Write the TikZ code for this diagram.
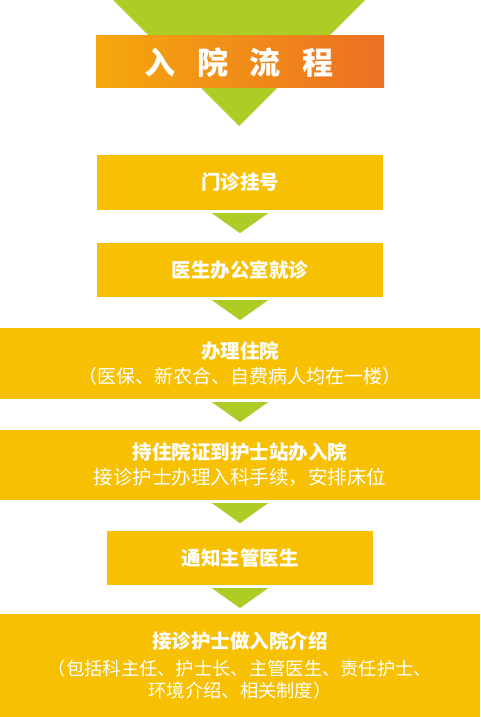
\documentclass[tikz,border=0pt]{standalone}
\usepackage{fontspec}
\newfontfamily\cjk{Noto Sans CJK SC}
\usetikzlibrary{calc}
\definecolor{boxy}{HTML}{F8C002}
\definecolor{arrg}{HTML}{ACCD26}
\definecolor{banl}{HTML}{F5A80C}
\definecolor{banr}{HTML}{EC7024}
\tikzset{
  stepbox/.style={fill=boxy, draw=none, inner sep=0pt, align=center, text=white,
    font=\cjk\fontsize{19.5}{25}\selectfont},
  garrow/.style={fill=arrg, draw=none},
}
\newcommand{\downtri}[1]{\fill[garrow] ($(#1.south)+(-28,3)$) -- ($(#1.south)+(28,3)$) -- ($(#1.south)+(0,23)$) -- cycle;}
\begin{document}
\begin{tikzpicture}[x=1pt,y=-1pt]
\useasboundingbox (0,0) rectangle (480,717);
% big triangle and banner
\fill[garrow] (113,0) -- (365,0) -- (239,126) -- cycle;
\shade[left color=banl, right color=banr] (96,36) rectangle (384,87);
\node[text=white, font=\cjk\bfseries\fontsize{31}{31}\selectfont] (title) at (239,63)
  {入\hspace{21.5pt}院\hspace{21.5pt}流\hspace{21.5pt}程};
% boxes
\node[stepbox, minimum width=286, minimum height=55] (b1) at (240,182.5) {\bfseries 门诊挂号};
\node[stepbox, minimum width=286, minimum height=54] (b2) at (240,270) {\bfseries 医生办公室就诊};
\node[stepbox, minimum width=480, minimum height=71, font=\cjk\fontsize{19}{25}\selectfont] (b3) at (240,363.5)
  {{\fontsize{19.5}{25}\selectfont\bfseries 办理住院}\\（医保、新农合、自费病人均在一楼）};
\node[stepbox, minimum width=480, minimum height=70] (b4) at (240,465)
  {{\bfseries 持住院证到护士站办入院}\\接诊护士办理入科手续，安排床位};
\node[stepbox, minimum width=266, minimum height=54] (b5) at (240,558) {\bfseries 通知主管医生};
\node[stepbox, minimum width=480, minimum height=103, font=\cjk\fontsize{18.3}{22.5}\selectfont] (b6) at (240,665.5)
  {{\fontsize{19.5}{25}\selectfont\bfseries 接诊护士做入院介绍}\\[4pt]（包括科主任、护士长、主管医生、责任护士、\\环境介绍、相关制度）};
% arrows
\downtri{b1}
\downtri{b2}
\downtri{b3}
\downtri{b4}
\downtri{b5}
\end{tikzpicture}
\end{document}
